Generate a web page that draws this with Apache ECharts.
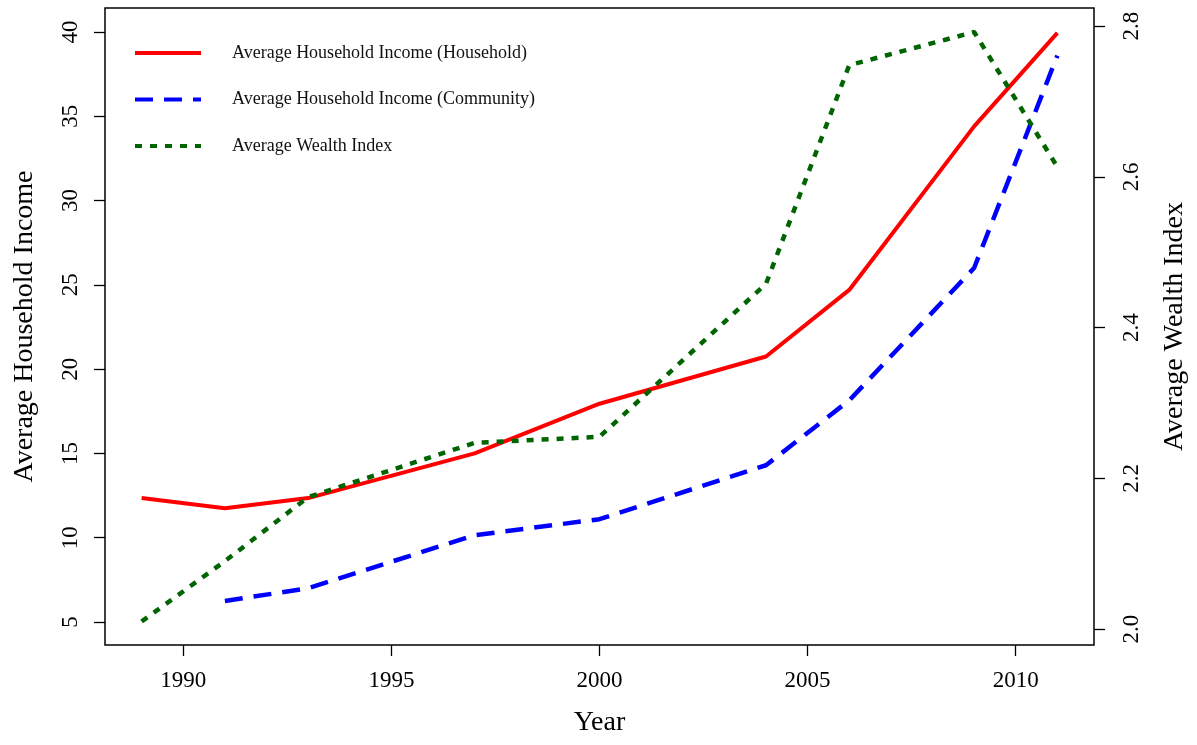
<!DOCTYPE html>
<html>
<head>
<meta charset="utf-8">
<script src="https://cdn.jsdelivr.net/npm/echarts@6/dist/echarts.min.js"></script>
<style>
  html, body { margin: 0; padding: 0; background: #fff; }
  #chart { width: 1197px; height: 745px; }
</style>
</head>
<body>
<div id="chart"></div>
<script>
// Survey waves
const years = [1989, 1991, 1993, 1997, 2000, 2004, 2006, 2009, 2011];
// Average household income, household-reported
const incomeHousehold = [12.35, 11.75, 12.35, 15.0, 17.95, 20.75, 24.7, 34.4, 39.95];
// Average household income, community-reported (no 1989 value)
const incomeCommunity = [null, 6.25, 7.0, 10.15, 11.1, 14.3, 18.15, 26.0, 38.6];
// Average wealth index (right axis)
const wealthIndex = [2.01, 2.09, 2.175, 2.247, 2.255, 2.458, 2.748, 2.792, 2.613];

const yearTicks = [1990, 1995, 2000, 2005, 2010];
const incomeTicks = [5, 10, 15, 20, 25, 30, 35, 40];
const wealthTicks = [2.0, 2.2, 2.4, 2.6, 2.8];

const seriesNames = [
  'Average Household Income (Household)',
  'Average Household Income (Community)',
  'Average Wealth Index'
];

const pairs = (vals) => years.map((y, i) => [y, vals[i]]);

const FONT = '"Liberation Serif", "DejaVu Serif", serif';
const axisText = { color: '#000', fontFamily: FONT, fontSize: 23 };
const titleText = { color: '#000', fontFamily: FONT, fontSize: 28 };
const tick = { show: true, length: 11, lineStyle: { color: '#000', width: 1.3 } };

const chart = echarts.init(document.getElementById('chart'), null, { renderer: 'canvas' });

chart.setOption({
  backgroundColor: '#fff',
  animation: false,
  grid: {
    left: 105, right: 103, top: 8, bottom: 100,
    show: true, borderColor: '#000', borderWidth: 1.5, backgroundColor: 'transparent'
  },
  legend: {
    orient: 'vertical',
    left: 133, top: 44,
    padding: 0,
    itemWidth: 66, itemHeight: 18, itemGap: 28.5,
    itemStyle: { color: 'transparent', borderColor: 'transparent', borderWidth: 0, opacity: 0 },
    lineStyle: { width: 4 },
    textStyle: { color: '#111', fontFamily: FONT, fontSize: 18, padding: [0, 0, 0, 26] },
    data: seriesNames
  },
  xAxis: {
    type: 'value',
    min: 1988.12, max: 2011.88,
    name: 'Year', nameLocation: 'middle', nameGap: 64,
    nameTextStyle: titleText,
    axisLine: { show: false },
    axisTick: Object.assign({ customValues: yearTicks }, tick),
    axisLabel: Object.assign({ customValues: yearTicks, margin: 24, formatter: (v) => String(v) }, axisText),
    splitLine: { show: false }
  },
  yAxis: [
    {
      type: 'value', position: 'left',
      min: 3.636, max: 41.424,
      name: 'Average Household Income', nameLocation: 'middle', nameGap: 66,
      nameTextStyle: titleText,
      axisLine: { show: false },
      axisTick: Object.assign({ customValues: incomeTicks }, tick),
      axisLabel: Object.assign({ customValues: incomeTicks, rotate: 90, margin: 23 }, axisText),
      splitLine: { show: false }
    },
    {
      type: 'value', position: 'right',
      min: 1.9788, max: 2.8239,
      name: 'Average Wealth Index', nameLocation: 'middle', nameGap: 67,
      nameTextStyle: titleText,
      axisLine: { show: false },
      axisTick: Object.assign({ customValues: wealthTicks }, tick),
      axisLabel: Object.assign({
        customValues: wealthTicks, rotate: 90, margin: 26,
        formatter: (v) => v.toFixed(1)
      }, axisText),
      splitLine: { show: false }
    }
  ],
  series: [
    {
      name: seriesNames[0], type: 'line', yAxisIndex: 0,
      data: pairs(incomeHousehold), symbol: 'none',
      lineStyle: { color: '#ff0000', width: 4, type: 'solid' },
      itemStyle: { color: '#ff0000' }, z: 3
    },
    {
      name: seriesNames[1], type: 'line', yAxisIndex: 0,
      data: pairs(incomeCommunity), symbol: 'none',
      lineStyle: { color: '#0000ff', width: 4.5, type: [18, 11], cap: 'butt' },
      itemStyle: { color: '#0000ff' }, z: 2
    },
    {
      name: seriesNames[2], type: 'line', yAxisIndex: 1,
      data: pairs(wealthIndex), symbol: 'none',
      lineStyle: { color: '#006400', width: 4.5, type: [7, 8], cap: 'butt' },
      itemStyle: { color: '#006400' }, z: 4
    }
  ]
});
</script>
</body>
</html>
